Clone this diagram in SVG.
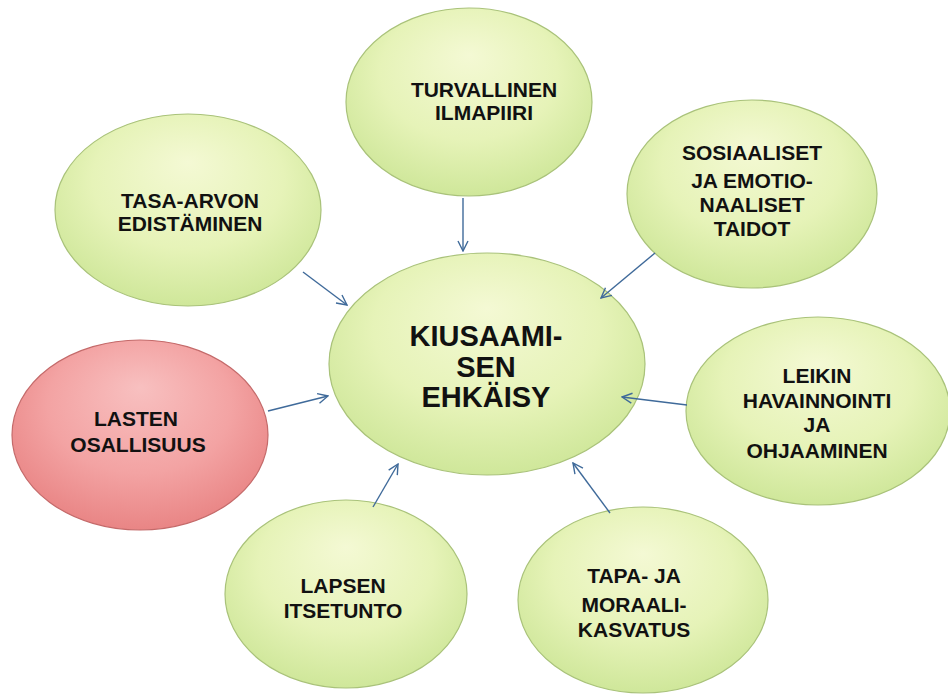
<svg xmlns="http://www.w3.org/2000/svg" width="948" height="695" viewBox="0 0 948 695">
<defs>
<radialGradient id="g" cx="50%" cy="40%" r="60%" fx="50%" fy="25%">
<stop offset="0" stop-color="#f4f9d4"/>
<stop offset="0.6" stop-color="#e6f3b8"/>
<stop offset="1" stop-color="#cfe79a"/>
</radialGradient>
<radialGradient id="r" cx="50%" cy="40%" r="60%" fx="50%" fy="25%">
<stop offset="0" stop-color="#f8c0c0"/>
<stop offset="0.6" stop-color="#f3a3a3"/>
<stop offset="1" stop-color="#e98585"/>
</radialGradient>
<marker id="a" viewBox="0 0 12 12" refX="11" refY="6" markerWidth="12" markerHeight="12" markerUnits="userSpaceOnUse" orient="auto">
<path d="M1,1 L11,6 L1,11" fill="none" stroke="#3f6a9a" stroke-width="1.4"/>
</marker>
</defs>
<style>
.n{fill:url(#g);stroke:#a9c27a;stroke-width:1.2}
.red{fill:url(#r);stroke:#c46a6a;stroke-width:1.2}
text{font-family:"Liberation Sans",Arial,sans-serif;font-weight:bold;fill:#111;text-anchor:middle}
.t{font-size:21px}
.c{font-size:29px}
.e{stroke:#3f6a9a;stroke-width:1.4;fill:none;marker-end:url(#a)}
</style>
<rect width="948" height="695" fill="#fff"/>
<g id="turvallinen">
<ellipse class="n" cx="469" cy="102" rx="123" ry="94"/>
<text class="t" x="484" y="97">TURVALLINEN</text>
<text class="t" x="484" y="120">ILMAPIIRI</text>
</g>
<g id="tasa-arvo">
<ellipse class="n" cx="188" cy="210" rx="133" ry="96"/>
<text class="t" x="190" y="208">TASA-ARVON</text>
<text class="t" x="190" y="231">EDISTÄMINEN</text>
</g>
<g id="sosiaaliset">
<ellipse class="n" cx="752" cy="194" rx="125" ry="94"/>
<text class="t" x="752" y="160">SOSIAALISET</text>
<text class="t" x="752" y="188">JA EMOTIO-</text>
<text class="t" x="752" y="212">NAALISET</text>
<text class="t" x="752" y="236">TAIDOT</text>
</g>
<g id="kiusaaminen">
<ellipse class="n" cx="487" cy="364" rx="158" ry="111"/>
<text class="c" x="486" y="346">KIUSAAMI-</text>
<text class="c" x="486" y="377">SEN</text>
<text class="c" x="486" y="407">EHKÄISY</text>
</g>
<g id="lasten">
<ellipse class="red" cx="140" cy="435" rx="128" ry="95"/>
<text class="t" x="136" y="426">LASTEN</text>
<text class="t" x="138" y="452">OSALLISUUS</text>
</g>
<g id="leikin">
<ellipse class="n" cx="818" cy="411" rx="132" ry="94"/>
<text class="t" x="817" y="383">LEIKIN</text>
<text class="t" x="817" y="408">HAVAINNOINTI</text>
<text class="t" x="817" y="432">JA</text>
<text class="t" x="817" y="458">OHJAAMINEN</text>
</g>
<g id="lapsen">
<ellipse class="n" cx="346" cy="594" rx="121" ry="94"/>
<text class="t" x="343" y="593">LAPSEN</text>
<text class="t" x="343" y="618">ITSETUNTO</text>
</g>
<g id="tapa">
<ellipse class="n" cx="643" cy="600" rx="125" ry="93"/>
<text class="t" x="634" y="583">TAPA- JA</text>
<text class="t" x="634" y="612">MORAALI-</text>
<text class="t" x="634" y="637">KASVATUS</text>
</g>
<g id="connectors">
<line class="e" x1="463" y1="198" x2="463" y2="251"/>
<line class="e" x1="303" y1="272" x2="347" y2="305"/>
<line class="e" x1="655" y1="253" x2="601" y2="298"/>
<line class="e" x1="268" y1="411" x2="328" y2="396"/>
<line class="e" x1="687" y1="405" x2="622" y2="397"/>
<line class="e" x1="373" y1="507" x2="398" y2="464"/>
<line class="e" x1="610" y1="513" x2="573" y2="463"/>
</g>
</svg>
